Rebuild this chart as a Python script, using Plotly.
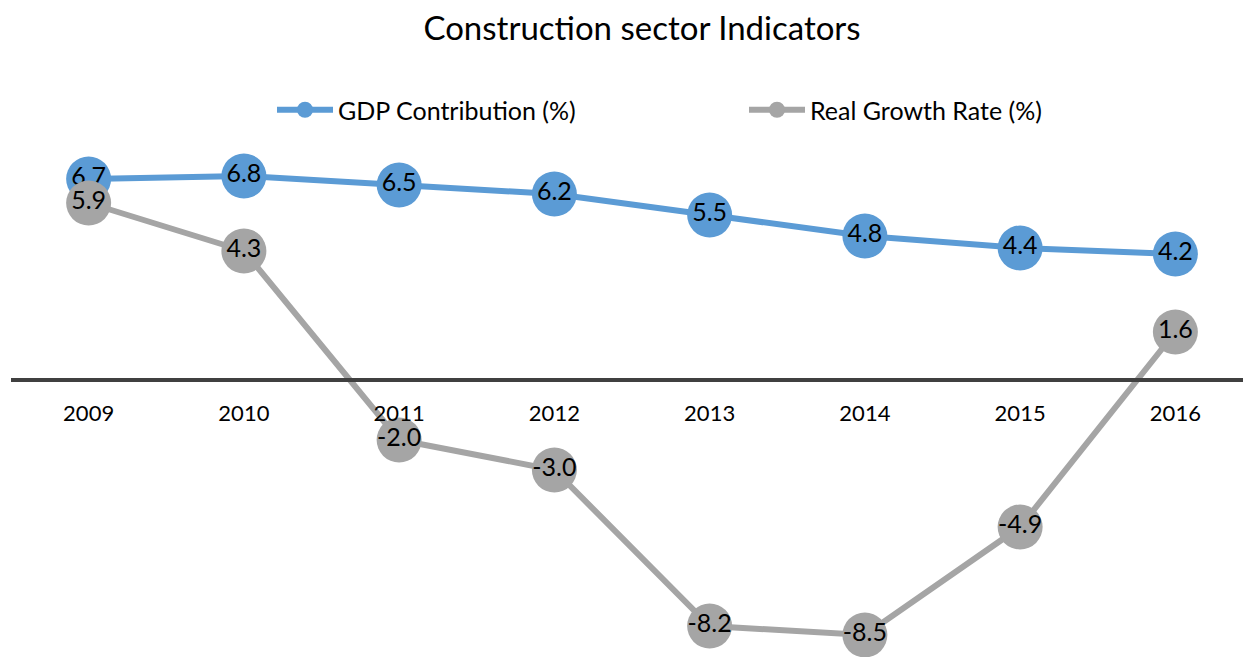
import plotly.graph_objects as go

years = ["2009", "2010", "2011", "2012", "2013", "2014", "2015", "2016"]
gdp_contribution = [6.7, 6.8, 6.5, 6.2, 5.5, 4.8, 4.4, 4.2]
real_growth = [5.9, 4.3, -2.0, -3.0, -8.2, -8.5, -4.9, 1.6]

FONT = "Lato"
BLUE = "#5B9BD5"
GRAY = "#A5A5A5"

# page body has an 8px margin; compensate in figure margins
OFF = 8
T = 150 - OFF
B = OFF
L = 11 - OFF
PLOT_W = 1242
R = 1251 - L - PLOT_W
PLOT_H = 657 - T - B

fig = go.Figure()
fig.add_trace(go.Scatter(
    x=years, y=gdp_contribution, name="GDP Contribution (%)",
    mode="lines+markers+text",
    line=dict(color=BLUE, width=6),
    marker=dict(color=BLUE, size=45),
    text=[f"{v:.1f}" for v in gdp_contribution],
    textposition="middle center",
    textfont=dict(family=FONT, size=25, color="black"),
    cliponaxis=False,
))
fig.add_trace(go.Scatter(
    x=years, y=real_growth, name="Real Growth Rate (%)",
    mode="lines+markers+text",
    line=dict(color=GRAY, width=6),
    marker=dict(color=GRAY, size=45),
    text=[f"{v:.1f}" for v in real_growth],
    textposition="middle center",
    textfont=dict(family=FONT, size=25, color="black"),
    cliponaxis=False,
))

fig.update_layout(
    width=1251, height=657,
    margin=dict(l=L, r=R, t=T, b=B),
    paper_bgcolor="white", plot_bgcolor="white",
    font=dict(family=FONT, size=22, color="black"),
    title=dict(text="Construction sector Indicators", x=(642 - OFF) / 1251, xanchor="center",
               y=1 - (28 - OFF) / 657, yanchor="middle", yref="container",
               font=dict(family=FONT, size=33, color="black")),
    legend=dict(orientation="h", x=(277 - 11 - 5) / PLOT_W, xanchor="left",
                y=(657 - B - (110 - OFF)) / PLOT_H,
                yanchor="middle", font=dict(family=FONT, size=25, color="black"),
                entrywidth=401, entrywidthmode="pixels", itemwidth=56),
    showlegend=True,
    xaxis=dict(type="category", range=[-0.5, 7.5], anchor="free",
               position=(657 - B - (380 - OFF)) / PLOT_H, showline=True, linewidth=4,
               linecolor="#404040", showgrid=False, ticks="", zeroline=False,
               ticklabelstandoff=13, tickfont=dict(family=FONT, size=22, color="black")),
    yaxis=dict(range=[-(657 - 380) / 30, (380 - 150) / 30], visible=False,
               showgrid=False, zeroline=False),
)

fig.write_html("out.html")
